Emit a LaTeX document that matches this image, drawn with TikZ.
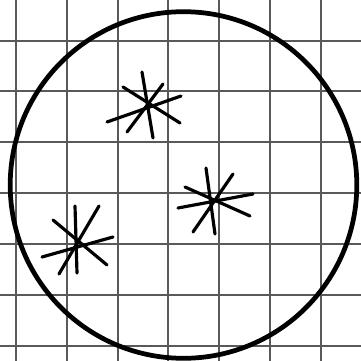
\documentclass[tikz,border=0pt]{standalone}
\usepackage{tikz}

\begin{document}
\begin{tikzpicture}[
  x=0.02cm, y=-0.02cm,
  gridline/.style={draw, black!65, line width=0.75pt},
  rim/.style={draw, line width=2.7pt},
  ray/.style={draw, line width=1.8pt, line cap=round}]
\useasboundingbox (0,0) rectangle (361,361);
\fill[white] (0,0) rectangle (361,361);
% square grid
\foreach \gx in {16,67,118,168,219,270,321} \draw[gridline] (\gx,0) -- (\gx,361);
\foreach \gy in {41,91,142,193,244,295,346} \draw[gridline] (0,\gy) -- (361,\gy);
% circle
\coordinate (c) at (183.5,185);
\draw[rim] (c) circle[radius=173.3];
% stars, one ray per pair of end points
\foreach \ax/\ay/\bx/\by in {142/72/153/138, 123/87/180/123, 163/84/127/132, 107/122/181/96}
  \draw[ray] (\ax,\ay) -- (\bx,\by);
\foreach \ax/\ay/\bx/\by in {206/168/215/234, 185/187/250/216, 233/174/193/232, 178/208/253/194}
  \draw[ray] (\ax,\ay) -- (\bx,\by);
\foreach \ax/\ay/\bx/\by in {75/206/77/273, 53/220/107/265, 99/206/59/274, 42/257/113/237}
  \draw[ray] (\ax,\ay) -- (\bx,\by);
\end{tikzpicture}
\end{document}
